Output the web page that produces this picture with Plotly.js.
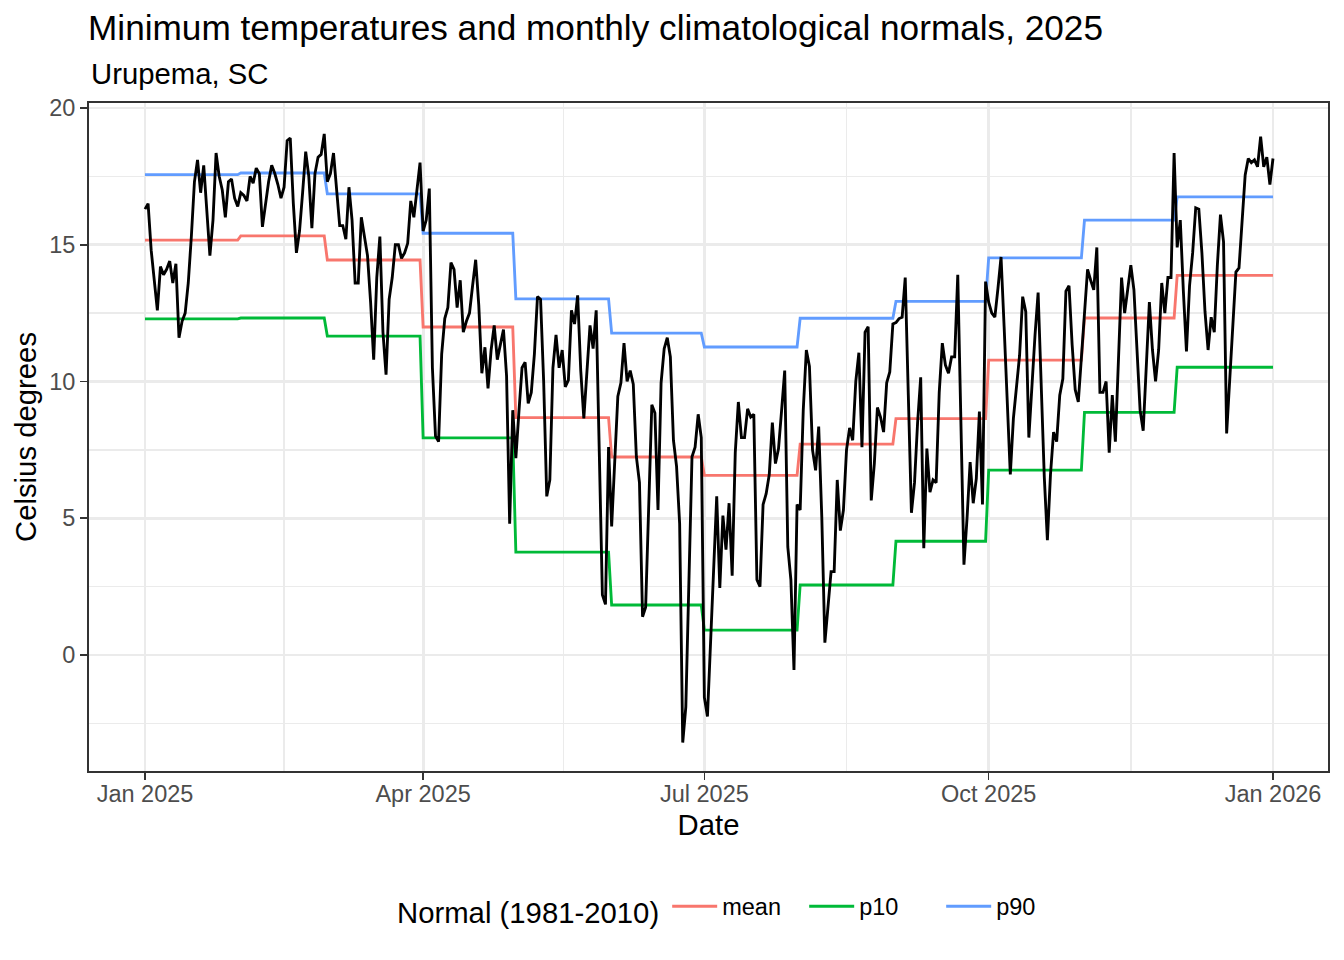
<!DOCTYPE html>
<html>
<head>
<meta charset="utf-8">
<script src="https://cdn.plot.ly/plotly-3.0.1.min.js"></script>
<style>
  html, body { margin: 0; padding: 0; background: #ffffff; }
  #chart { width: 1344px; height: 960px; }
</style>
</head>
<body>
<div id="chart"></div>
<script>
// ---------------- DATA ----------------
const startDate = '2025-01-01';
// daily minimum temperature (°C)
const tminJan = [16.3, 16.5, 14.8, 13.6, 12.6, 14.2, 13.9, 14.1, 14.4, 13.6, 14.3, 11.6, 12.2, 12.5, 13.6, 15.3, 17.3, 18.1, 16.9, 17.9, 16.2, 14.6, 15.9, 18.35, 17.5, 17.0, 16.0, 17.3, 17.4, 16.7, 16.4];
const tminFeb = [16.9, 16.8, 16.6, 17.5, 17.25, 17.8, 17.6, 15.65, 16.5, 17.3, 17.9, 17.6, 17.2, 16.7, 17.1, 18.8, 18.9, 16.5, 14.7, 15.5, 16.9, 18.4, 17.5, 15.6, 17.6, 18.2, 18.3, 19.05];
const tminMar = [17.3, 17.6, 18.35, 16.9, 15.7, 15.7, 15.2, 17.1, 15.9, 13.6, 13.6, 16.0, 15.3, 14.6, 12.9, 10.8, 13.8, 15.3, 11.8, 10.25, 13.0, 13.8, 15.0, 15.0, 14.5, 14.7, 15.05, 16.6, 16.0, 17.0, 18.0];
const tminApr = [15.5, 15.9, 17.05, 10.5, 8.0, 7.8, 11.0, 12.3, 12.7, 14.35, 14.1, 12.7, 13.7, 11.8, 12.2, 12.5, 13.5, 14.45, 12.8, 10.3, 11.25, 9.75, 11.15, 12.05, 10.8, 11.4, 11.9, 10.2, 4.8, 8.95];
const tminMay = [7.2, 8.9, 10.5, 10.7, 9.2, 9.6, 11.0, 13.1, 13.0, 10.0, 5.8, 6.4, 10.5, 11.7, 10.5, 11.15, 9.8, 10.05, 12.6, 12.1, 13.15, 10.4, 8.65, 10.35, 12.05, 11.2, 12.6, 7.4, 2.2, 1.85, 7.6];
const tminJun = [4.7, 6.9, 9.45, 9.95, 11.4, 10.0, 10.4, 9.9, 7.25, 6.3, 1.4, 1.75, 5.05, 9.15, 8.85, 5.3, 9.95, 11.2, 11.6, 10.9, 7.85, 6.9, 4.8, -3.2, -1.9, 2.5, 7.25, 7.6, 8.8, 7.95];
const tminJul = [-1.55, -2.25, 0.3, 2.75, 5.8, 2.45, 5.1, 3.85, 5.55, 2.9, 7.4, 9.25, 7.95, 7.95, 9.0, 8.7, 8.8, 2.75, 2.5, 5.5, 5.9, 6.6, 8.5, 7.0, 7.55, 8.95, 10.4, 3.95, 2.75, -0.55, 5.5];
const tminAug = [5.3, 8.95, 11.15, 10.55, 7.5, 6.75, 8.35, 5.05, 0.45, 1.9, 3.05, 3.05, 6.4, 4.55, 5.3, 7.5, 8.3, 7.85, 10.0, 11.05, 7.6, 11.8, 12.0, 5.65, 7.0, 9.05, 8.7, 8.15, 9.95, 10.35, 12.1];
const tminSep = [12.15, 12.3, 12.35, 13.8, 9.5, 5.2, 6.3, 8.5, 10.15, 3.9, 7.55, 5.95, 6.4, 6.3, 9.6, 11.4, 10.6, 10.3, 10.9, 10.9, 13.9, 8.6, 3.3, 5.0, 7.05, 5.55, 6.45, 8.9, 5.5, 13.65];
const tminOct = [12.9, 12.5, 12.35, 13.4, 14.55, 12.0, 9.3, 6.6, 8.65, 9.85, 10.95, 13.1, 12.55, 7.95, 10.0, 11.7, 13.25, 9.75, 6.5, 4.2, 6.6, 8.15, 7.8, 9.5, 10.1, 13.3, 13.5, 11.35, 9.7, 9.25, 10.8];
const tminNov = [12.35, 14.1, 13.7, 13.35, 14.9, 9.6, 9.6, 10.0, 7.4, 9.5, 7.8, 10.5, 13.8, 12.5, 13.35, 14.25, 13.35, 11.25, 8.95, 8.2, 10.8, 12.9, 11.15, 10.0, 11.15, 13.6, 12.5, 13.8, 13.8, 18.35];
// December 1 .. December 31, then January 1 2026
const tminDec = [14.9, 15.9, 13.3, 11.1, 13.5, 14.7, 16.35, 16.3, 14.7, 12.55, 11.15, 12.35, 11.8, 14.25, 16.1, 15.1, 8.1, 10.2, 12.4, 14.0, 14.15, 16.0, 17.55, 18.15, 18.0, 18.1, 17.85, 18.95, 17.85, 18.2, 17.2, 18.15];

// monthly climatological normals 1981-2010 (°C)
const months = ['Jan','Feb','Mar','Apr','May','Jun','Jul','Aug','Sep','Oct','Nov','Dec'];
const normMean = [15.17, 15.32, 14.44, 11.99, 8.68, 7.24, 6.57, 7.71, 8.64, 10.78, 12.32, 13.88];
const normP10  = [12.29, 12.32, 11.66, 7.94, 3.76, 1.83, 0.91, 2.56, 4.16, 6.76, 8.87, 10.52];
const normP90  = [17.56, 17.62, 16.86, 15.42, 13.02, 11.77, 11.26, 12.31, 12.93, 14.52, 15.90, 16.75];

// tick labels
const xTickVals = ['2025-01-01', '2025-04-01', '2025-07-01', '2025-10-01', '2026-01-01'];
const xTickText = ['Jan 2025', 'Apr 2025', 'Jul 2025', 'Oct 2025', 'Jan 2026'];
const xMinorVals = ['2025-02-15', '2025-05-16 12:00', '2025-08-16', '2025-11-16'];
const yTickVals = [0, 5, 10, 15, 20];
const yTickText = ['0', '5', '10', '15', '20'];
const yMinorVals = [-2.5, 2.5, 7.5, 12.5, 17.5];

// ---------------- BUILD ----------------
const tmin = [].concat(tminJan, tminFeb, tminMar, tminApr, tminMay, tminJun,
                       tminJul, tminAug, tminSep, tminOct, tminNov, tminDec);
const start = new Date(startDate + 'T00:00:00Z');
function iso(d) { return d.toISOString().slice(0, 10); }
const dates = tmin.map((_, i) => iso(new Date(start.getTime() + i * 86400000)));
const lastDate = dates[dates.length - 1];

function stepSeries(vals) {
  const xs = [], ys = [];
  vals.forEach((v, m) => {
    const first = new Date(Date.UTC(2025, m, 1));
    const last = (m === vals.length - 1) ? new Date(lastDate + 'T00:00:00Z')
                                          : new Date(Date.UTC(2025, m + 1, 0));
    xs.push(iso(first), iso(last));
    ys.push(v, v);
  });
  return { x: xs, y: ys };
}

const FONT = '"Liberation Sans", Arial, Helvetica, sans-serif';
const LW = 2.85;

const sMean = stepSeries(normMean);
const sP10 = stepSeries(normP10);
const sP90 = stepSeries(normP90);

const traces = [
  { x: sMean.x, y: sMean.y, type: 'scatter', mode: 'lines', name: 'mean',
    line: { color: '#F8766D', width: LW }, showlegend: true },
  { x: sP10.x, y: sP10.y, type: 'scatter', mode: 'lines', name: 'p10',
    line: { color: '#00BA38', width: LW }, showlegend: true },
  { x: sP90.x, y: sP90.y, type: 'scatter', mode: 'lines', name: 'p90',
    line: { color: '#619CFF', width: LW }, showlegend: true },
  { x: dates, y: tmin, type: 'scatter', mode: 'lines', name: 'tmin',
    line: { color: '#000000', width: LW }, showlegend: false }
];

const layout = {
  width: 1344, height: 960,
  margin: { l: 89, r: 16, t: 103, b: 189 },
  paper_bgcolor: '#ffffff', plot_bgcolor: '#ffffff',
  font: { family: FONT, color: '#000000' },
  title: {
    text: 'Minimum temperatures and monthly climatological normals, 2025',
    font: { family: FONT, size: 35.2, color: '#000000' },
    x: 88 / 1344, xref: 'container', xanchor: 'left',
    y: 1 - 28 / 960, yref: 'container', yanchor: 'middle'
  },
  xaxis: {
    type: 'date',
    range: ['2024-12-13 21:07', '2026-01-18 19:12'],
    tickmode: 'array', tickvals: xTickVals, ticktext: xTickText,
    tickfont: { family: FONT, size: 23.5, color: '#4D4D4D' },
    ticks: 'outside', ticklen: 7.3, tickwidth: 1.6, tickcolor: '#333333',
    ticklabelstandoff: -6,
    showgrid: true, gridcolor: '#EBEBEB', gridwidth: 2.8,
    minor: { tickmode: 'array', tickvals: xMinorVals, showgrid: true,
             gridcolor: '#EBEBEB', gridwidth: 1.4, ticks: '' },
    showline: true, linecolor: '#333333', linewidth: 1.6, mirror: true,
    zeroline: false,
    title: { text: 'Date', font: { family: FONT, size: 29.3, color: '#000000' }, standoff: 8 }
  },
  yaxis: {
    range: [-4.24, 20.18],
    tickmode: 'array', tickvals: yTickVals, ticktext: yTickText,
    tickfont: { family: FONT, size: 23.5, color: '#4D4D4D' },
    ticks: 'outside', ticklen: 7.3, tickwidth: 1.6, tickcolor: '#333333',
    ticklabelstandoff: 0,
    showgrid: true, gridcolor: '#EBEBEB', gridwidth: 2.8,
    minor: { tickmode: 'array', tickvals: yMinorVals, showgrid: true,
             gridcolor: '#EBEBEB', gridwidth: 1.4, ticks: '' },
    showline: true, linecolor: '#333333', linewidth: 1.6, mirror: true,
    zeroline: false,
    title: { text: 'Celsius degrees', font: { family: FONT, size: 29.3, color: '#000000' }, standoff: 4 }
  },
  legend: {
    orientation: 'h',
    x: (395 - 89) / 1239, xanchor: 'left', xref: 'paper',
    y: (771 - 909) / 668, yanchor: 'middle', yref: 'paper',
    title: { text: 'Normal (1981-2010)', font: { family: FONT, size: 29.3, color: '#000000' }, side: 'left' },
    font: { family: FONT, size: 23.5, color: '#000000' },
    bgcolor: 'rgba(0,0,0,0)',
    itemwidth: 45,
    entrywidth: 77, entrywidthmode: 'pixels',
    traceorder: 'normal'
  },
  annotations: [
    { text: 'Urupema, SC', xref: 'paper', yref: 'paper', x: 0, y: (771 - 73) / 668,
      xanchor: 'left', yanchor: 'middle', showarrow: false,
      font: { family: FONT, size: 29.3, color: '#000000' } }
  ],
  showlegend: true
};

Plotly.newPlot('chart', traces, layout, { displayModeBar: false, staticPlot: true });
</script>
</body>
</html>
